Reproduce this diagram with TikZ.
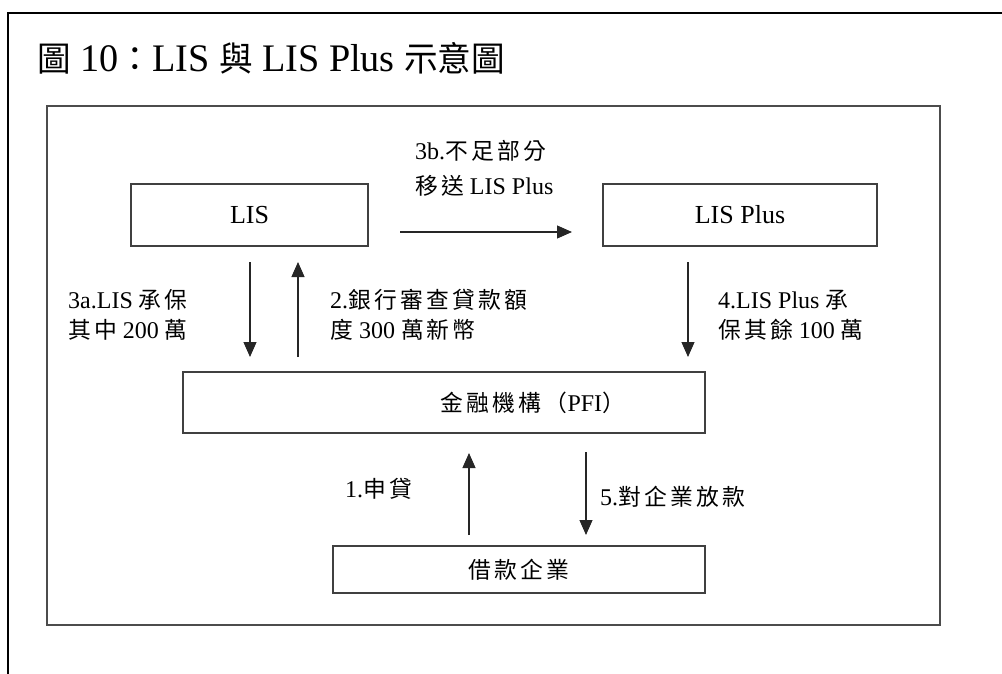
\documentclass[tikz,border=0pt]{standalone}
\usepackage{fontspec}
\usepackage{graphicx}
\setmainfont{Liberation Serif}
\newfontfamily\cjk[Scale=0.95,LetterSpace=14]{Noto Sans CJK TC}
\newfontfamily\cjktitle[Scale=0.88]{Noto Sans CJK TC}
\usetikzlibrary{arrows.meta}
\newcommand\CJ[1]{{\cjk #1}}
\newcommand\CT[1]{{\cjktitle #1}}
\begin{document}
\begin{tikzpicture}[x=1pt,y=-1pt,
  box/.style={draw=black!75, line width=1.1pt, inner sep=0},
  lbl/.style={inner sep=0, align=left, anchor=west, font=\fontsize{24}{30}\selectfont},
  arr/.style={line width=1.1pt, draw=black!85, -{Triangle[length=15pt,width=13pt]}},
]
\useasboundingbox (0,0) rectangle (1002,674);
\draw[line width=2.5pt] (8,674) -- (8,13) -- (1002,13);
\node[anchor=base west, inner sep=0] (title) at (37,72)
  {\resizebox{468pt}{\height}{\fontsize{39}{42}\selectfont\CT{圖} 10\CT{：}LIS \CT{與} LIS Plus \CT{示意圖}}};
\draw[draw=black!70, line width=1.2pt] (47,106) rectangle (940,625);

\node[box, minimum width=237pt, minimum height=62pt, font=\fontsize{26}{30}\selectfont] (lis) at (249.5,215) {LIS};
\node[box, minimum width=274pt, minimum height=62pt, font=\fontsize{26}{30}\selectfont] (lisplus) at (740,215) {LIS Plus};
\node[box, text width=362pt, inner xsep=80pt, minimum height=61pt, align=right, font=\fontsize{24}{30}\selectfont] (pfi) at (444,402.5) {\CJ{金融機構（}PFI\CJ{）}};
\node[box, minimum width=372pt, minimum height=47pt, font=\fontsize{24}{30}\selectfont] (firm) at (519,569.5) {\CJ{借款企業}};

\coordinate (b3s) at (400,232);
\coordinate (b3e) at (572,232);
\coordinate (a3s) at (250,262);
\coordinate (a3e) at (250,357);
\coordinate (a2s) at (298,357);
\coordinate (a2e) at (298,262);
\coordinate (a4s) at (688,262);
\coordinate (a4e) at (688,357);
\coordinate (a1s) at (469,535);
\coordinate (a1e) at (469,453);
\coordinate (a5s) at (586,452);
\coordinate (a5e) at (586,535);

\draw[arr] (b3s) -- (b3e);
\draw[arr] (a3s) -- (a3e);
\draw[arr] (a2s) -- (a2e);
\draw[arr] (a4s) -- (a4e);
\draw[arr] (a1s) -- (a1e);
\draw[arr] (a5s) -- (a5e);

\node[lbl, font=\fontsize{24}{35}\selectfont] (l3b) at (415,168) {3b.\CJ{不足部分}\\\CJ{移送} LIS Plus};
\node[lbl] (l3a) at (68,315) {3a.LIS \CJ{承保}\\\CJ{其中} 200 \CJ{萬}};
\node[lbl] (l2) at (330,315) {2.\CJ{銀行審查貸款額}\\\CJ{度} 300 \CJ{萬新幣}};
\node[lbl] (l4) at (718,315) {4.LIS Plus \CJ{承}\\\CJ{保其餘} 100 \CJ{萬}};
\node[lbl] (l1) at (345,489) {1.\CJ{申貸}};
\node[lbl] (l5) at (600,497) {5.\CJ{對企業放款}};
\end{tikzpicture}
\end{document}
